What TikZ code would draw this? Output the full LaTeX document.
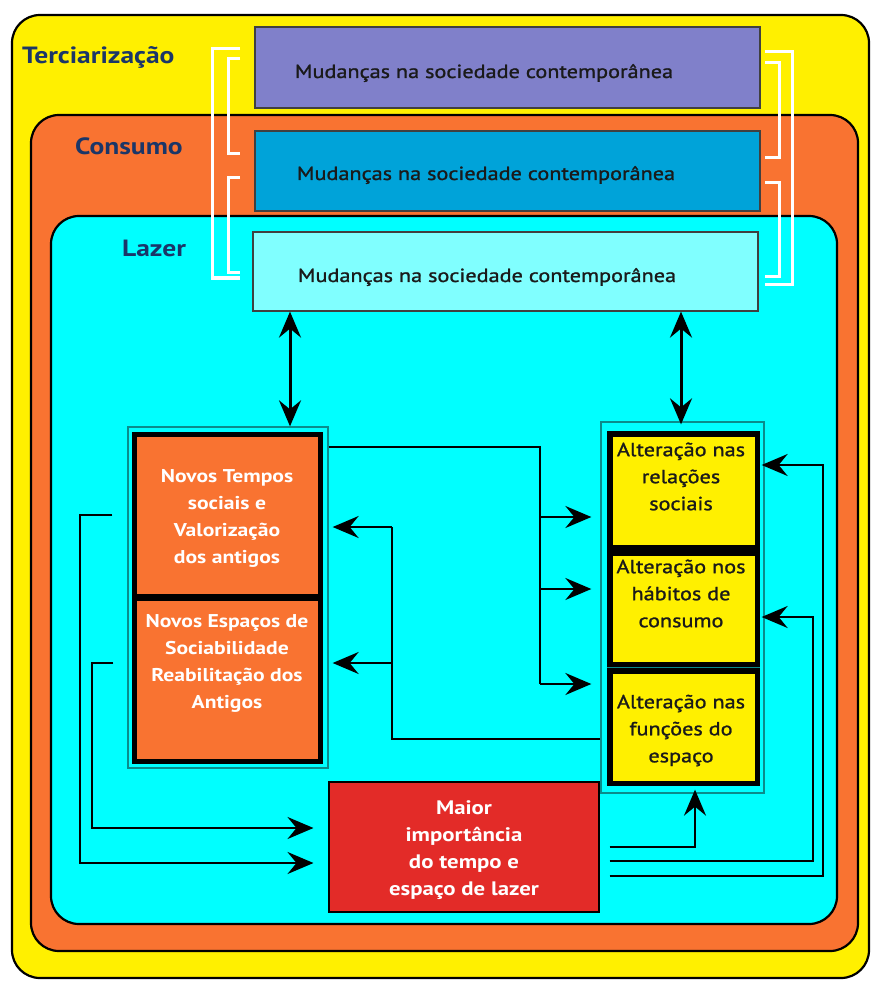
\documentclass[tikz,border=0pt]{standalone}
\usepackage{fontspec}
\setmainfont{PT Sans}[FakeStretch=1.17]
\newfontfamily\semib{PT Sans}[FakeStretch=1.17,FakeBold=1.2]
\usetikzlibrary{arrows.meta}

\definecolor{cYellow}{HTML}{FFF000}
\definecolor{cOrange}{HTML}{F97331}
\definecolor{cCyan}{HTML}{00FFFF}
\definecolor{cPurple}{HTML}{8080CA}
\definecolor{cBlue}{HTML}{00A3D9}
\definecolor{cPale}{HTML}{80FFFF}
\definecolor{cRed}{HTML}{E32B28}
\definecolor{cNavy}{HTML}{1B3668}
\definecolor{cTeal}{HTML}{0A8C8C}
\definecolor{cText}{HTML}{1A1A1A}

\tikzset{
  panel/.style={draw=black, line width=2.2pt, rounded corners=28pt},
  lbl/.style={inner sep=0pt, anchor=base west, text=cNavy,
    font=\bfseries\fontsize{23.5}{23.5}\selectfont},
  band/.style={draw=black!75, line width=1.2pt, minimum width=505pt, inner sep=0pt},
  bandtxt/.style={inner sep=0pt, anchor=base, text=cText,
    font=\semib\fontsize{19}{19}\selectfont},
  frame/.style={draw=cTeal, line width=1.3pt, inner sep=0pt},
  back/.style={fill=black, inner sep=0pt},
  obox/.style={fill=cOrange, inner sep=0pt, minimum width=181pt},
  ybox/.style={fill=cYellow, inner sep=0pt, minimum width=142pt},
  otxt/.style={inner sep=0pt, align=center, text=white,
    font=\bfseries\fontsize{18.5}{27}\selectfont},
  ytxt/.style={inner sep=0pt, align=center, text=cText,
    font=\semib\fontsize{19}{27}\selectfont},
  rtxt/.style={inner sep=0pt, align=center, text=white,
    font=\bfseries\fontsize{19.5}{27}\selectfont},
  conn/.style={draw=black, line width=2.3pt},
  tip/.style={-{Stealth[length=26pt,width=22pt,inset=9pt]}},
  dbl/.style={line width=3pt,
    {Stealth[length=26pt,width=22pt,inset=9pt]}-{Stealth[length=26pt,width=22pt,inset=9pt]}},
  bracket/.style={draw=white, line width=3pt},
}

\begin{document}
\begin{tikzpicture}[x=1pt,y=-1pt]
\useasboundingbox (0,0) rectangle (872,981);
\fill[white] (0,0) rectangle (872,981);

% nested panels
\filldraw[panel, fill=cYellow] (12,15) rectangle (869,978);
\filldraw[panel, fill=cOrange] (31,115) rectangle (858,951);
\filldraw[panel, fill=cCyan] (51,216) rectangle (837,924);

\node[lbl] (lTer) at (22,64) {Terciarização};
\node[lbl] (lCon) at (75,155) {Consumo};
\node[lbl] (lLaz) at (122,257) {Lazer};

% three bands
\node[band, fill=cPurple, minimum height=81pt] (b1) at (507.5,67.5) {};
\node[band, fill=cBlue, minimum height=80pt] (b2) at (507.5,171) {};
\node[band, fill=cPale, minimum height=79pt] (b3) at (505.5,271.5) {};
\node[bandtxt] (t1) at (484,78) {Mudanças na sociedade contemporânea};
\node[bandtxt] (t2) at (486,180) {Mudanças na sociedade contemporânea};
\node[bandtxt] (t3) at (487,282) {Mudanças na sociedade contemporânea};

% white brackets
\draw[bracket] (240,49) -| (212,278) -- (240,278);
\draw[bracket] (240,59) -| (228,154) -- (240,154);
\draw[bracket] (240,178) -| (228,273) -- (240,273);
\draw[bracket] (765,52) -| (792,284) -- (765,284);
\draw[bracket] (765,63) -| (779,158) -- (765,158);
\draw[bracket] (765,183) -| (779,277) -- (765,277);

% left column
\node[frame, minimum width=200pt, minimum height=341pt] (lframe) at (228,597.5) {};
\node[back, minimum width=191pt, minimum height=332pt] (lback) at (227.5,598) {};
\node[obox, minimum height=157pt] (nt) at (227.5,515.5) {};
\node[obox, minimum height=158pt] (ne) at (227.5,680) {};
\node[otxt] (ntT) at (227,518) {Novos Tempos\\sociais e\\Valorização\\dos antigos};
\node[otxt] (neT) at (227,663) {Novos Espaços de\\Sociabilidade\\Reabilitação dos\\Antigos};

% right column
\node[frame, minimum width=163pt, minimum height=371pt] (rframe) at (682.5,607.5) {};
\node[back, minimum width=153pt, minimum height=355pt] (rback) at (683.5,608.5) {};
\node[ybox, minimum height=108pt] (y1) at (684,491) {};
\node[ybox, minimum height=106pt] (y2) at (684,609) {};
\node[ybox, minimum height=107pt] (y3) at (684,727.5) {};
\draw[cTeal, line width=1pt] (rback.west |- y2.south) ++(0,5) -- ++(153,0);
\node[ytxt] (y1T) at (681,476.5) {Alteração nas\\relações\\sociais};
\node[ytxt] (y2T) at (681,593.5) {Alteração nos\\hábitos de\\consumo};
\node[ytxt] (y3T) at (681,730.5) {Alteração nas\\funções do\\espaço};

% central red box
\node[draw=black, line width=2pt, fill=cRed, minimum width=270pt, minimum height=130pt,
  inner sep=0pt] (red) at (463.5,846.5) {};
\node[rtxt] (redT) at (464,850) {Maior\\importância\\do tempo e\\espaço de lazer};

% links between the bands and the two columns
\coordinate (dL) at (290,0);
\coordinate (dR) at (681,0);
\draw[dbl] (b3.south -| dL) -- (lframe.north -| dL);
\draw[dbl, shorten >=-3pt] (b3.south -| dR) -- (rframe.north -| dR);

% left column to right column
\coordinate (jA) at (540,447);
\coordinate (jB) at (540,517);
\coordinate (jC) at (540,589);
\coordinate (jD) at (540,684);
\draw[conn] (lframe.east |- jA) -- (jA) -- (jD);
\draw[conn, tip, shorten >=9pt] (jB) -- (rframe.west |- jB);
\draw[conn, tip, shorten >=9pt] (jC) -- (rframe.west |- jC);
\draw[conn, tip, shorten >=9pt] (jD) -- (rframe.west |- jD);

% right column back to left column
\coordinate (kA) at (392,739);
\coordinate (kB) at (392,527);
\coordinate (kC) at (392,663);
\draw[conn] (rframe.west |- kA) -- (kA) -- (kB);
\draw[conn, tip, shorten >=4pt] (kB) -- (lframe.east |- kB);
\draw[conn, tip, shorten >=4pt] (kC) -- (lframe.east |- kC);

% left column down to the red box
\coordinate (pA) at (80,515);
\coordinate (pB) at (80,863);
\coordinate (qA) at (92,663);
\coordinate (qB) at (92,828);
\draw[conn, tip, shorten <=15pt, shorten >=14pt] (lframe.west |- pA) -- (pA) -- (pB) -- (red.west |- pB);
\draw[conn, tip, shorten <=14pt, shorten >=14pt] (lframe.west |- qA) -- (qA) -- (qB) -- (red.west |- qB);

% red box up to the right column
\coordinate (uA) at (695,847);
\coordinate (vA) at (813,861);
\coordinate (vB) at (813,617);
\coordinate (wA) at (823,876);
\coordinate (wB) at (823,465);
\draw[conn, tip, shorten <=10pt, shorten >=-4pt] (red.east |- uA) -- (uA) -- (uA |- rframe.south);
\draw[conn, tip, shorten <=10pt, shorten >=-3pt] (red.east |- vA) -- (vA) -- (vB) -- (rframe.east |- vB);
\draw[conn, tip, shorten <=10pt, shorten >=-3pt] (red.east |- wA) -- (wA) -- (wB) -- (rframe.east |- wB);
\end{tikzpicture}
\end{document}
